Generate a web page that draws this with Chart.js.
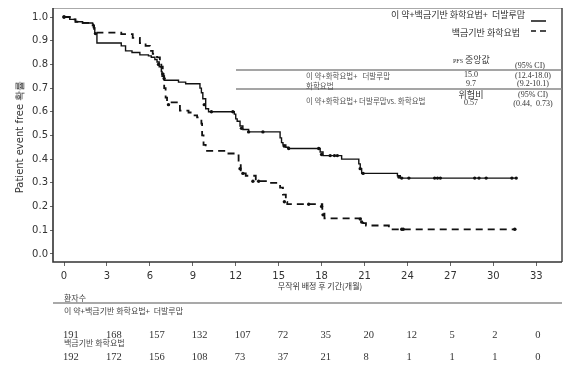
<!DOCTYPE html>
<html><head><meta charset="utf-8">
<script src="https://cdn.jsdelivr.net/npm/chart.js@4/dist/chart.umd.min.js"></script>
<style>html,body{margin:0;padding:0;background:#fff;}canvas{display:block;}</style>
</head><body>
<canvas id="c" width="566" height="366"></canvas>
<script>
// ---- data ----
const xTicks = [0,3,6,9,12,15,18,21,24,27,30,33];
const yTicks = [0,0.1,0.2,0.3,0.4,0.5,0.6,0.7,0.8,0.9,1.0];

const armA_t = [0,0.4,0.8,1.3,2.0,2.05,2.15,2.3,3.8,4.0,4.3,4.75,5.3,5.9,6.1,6.35,6.5,6.65,6.8,6.85,7.0,8.0,8.5,9.5,9.6,9.7,9.9,10.1,11.9,12.0,12.1,12.3,12.5,12.9,15.1,15.2,15.3,15.5,15.7,17.9,18.1,19.4,20.6,20.7,20.8,23.3,23.5,31.6];
const armA_s = [1.0,0.99,0.98,0.975,0.97,0.955,0.93,0.89,0.89,0.878,0.857,0.85,0.84,0.836,0.83,0.82,0.81,0.79,0.77,0.75,0.733,0.725,0.718,0.70,0.68,0.655,0.613,0.60,0.59,0.57,0.56,0.54,0.525,0.515,0.49,0.47,0.46,0.45,0.445,0.43,0.415,0.40,0.38,0.36,0.34,0.33,0.32,0.32];

const armB_t = [0,0.4,0.8,1.3,2.0,2.1,2.2,4.0,4.8,5.3,5.7,6.0,6.2,6.5,6.7,6.8,6.9,6.95,7.0,7.1,7.2,8.1,8.7,9.0,9.3,9.6,9.65,9.75,9.9,11.2,12.1,12.2,12.35,12.7,13.4,14.4,15.1,15.3,15.5,15.6,18.05,18.2,20.9,21.1,22.7,31.6];
const armB_s = [1.0,0.99,0.98,0.975,0.965,0.95,0.934,0.928,0.912,0.89,0.878,0.857,0.844,0.83,0.815,0.79,0.77,0.75,0.70,0.66,0.64,0.605,0.597,0.585,0.576,0.55,0.50,0.46,0.435,0.424,0.416,0.38,0.34,0.33,0.307,0.30,0.28,0.25,0.22,0.21,0.17,0.15,0.13,0.12,0.104,0.104];

const censorA_t = [0,6.6,6.9,9.8,10.3,11.8,12.4,12.9,13.9,15.4,15.7,17.8,18.0,18.6,18.9,19.1,20.7,20.9,23.4,23.6,24.1,25.9,26.1,26.3,28.7,29.0,29.5,31.3,31.6];
const censorA_s = [1.0,0.80,0.76,0.63,0.60,0.60,0.53,0.515,0.515,0.455,0.445,0.445,0.42,0.415,0.415,0.415,0.36,0.34,0.325,0.32,0.32,0.32,0.32,0.32,0.32,0.32,0.32,0.32,0.32];
const censorB_t = [0,2.2,7.0,7.3,12.3,12.5,13.2,13.6,15.4,17.1,18.0,18.1,20.7,20.8,23.6,23.7,31.5];
const censorB_s = [1.0,0.93,0.74,0.63,0.36,0.34,0.307,0.307,0.22,0.21,0.20,0.165,0.147,0.135,0.104,0.104,0.104];

const riskA = [191,168,157,132,107,72,35,20,12,5,2,0];
const riskB = [192,172,156,108,73,37,21,8,1,1,1,0];

const legendA = '이 약+백금기반 화학요법+  더발루맙';
const legendB = '백금기반 화학요법';
const yTitle = 'Patient event free 확률';
const xTitle = '무작위 배정 후 기간(개월)';

const pts = (ts, ss) => ts.map((t,i) => ({x:t, y:ss[i]}));
const KR = '"Noto Sans CJK KR", sans-serif';
const SERIF = '"Liberation Serif", serif';

const overlay = {
  id:'overlay',
  afterDraw(chart){
    const ctx = chart.ctx, a = chart.chartArea, xs = chart.scales.x;
    ctx.save();
    // frame
    ctx.lineWidth = 1;
    ctx.strokeStyle = '#aaa';
    ctx.beginPath(); ctx.moveTo(a.left, a.top+0.5); ctx.lineTo(a.right, a.top+0.5); ctx.stroke();
    ctx.strokeStyle = '#444'; ctx.lineWidth = 1.5;
    ctx.beginPath(); ctx.moveTo(a.right, a.top); ctx.lineTo(a.right, a.bottom); ctx.stroke();
    ctx.strokeStyle = '#333'; ctx.lineWidth = 1.6;
    ctx.beginPath(); ctx.moveTo(a.left, a.top); ctx.lineTo(a.left, a.bottom); ctx.lineTo(a.right, a.bottom); ctx.stroke();

    // legend
    ctx.fillStyle = '#333'; ctx.textBaseline = 'middle';
    ctx.font = '9px ' + KR; ctx.textAlign = 'right';
    ctx.fillText(legendA, 525, 15);
    ctx.fillText(legendB, 520, 33);
    ctx.strokeStyle = '#111'; ctx.lineWidth = 1.5;
    ctx.beginPath(); ctx.moveTo(531, 21); ctx.lineTo(546, 21); ctx.stroke();
    ctx.beginPath(); ctx.moveTo(531, 31); ctx.lineTo(536, 31); ctx.moveTo(540, 31); ctx.lineTo(546, 31); ctx.stroke();

    // summary table
    ctx.strokeStyle = '#888'; ctx.lineWidth = 1.3;
    ctx.beginPath(); ctx.moveTo(236, 70); ctx.lineTo(a.right, 70); ctx.moveTo(236, 89); ctx.lineTo(a.right, 89); ctx.stroke();
    ctx.fillStyle = '#333';
    ctx.textAlign = 'left';
    ctx.font = '6px ' + SERIF; ctx.fillText('PFS', 453, 61);
    ctx.font = '9px ' + KR; ctx.fillText('중앙값', 465, 60);
    ctx.textAlign = 'center';
    ctx.font = '8px ' + SERIF;
    ctx.fillText('(95% CI)', 530, 66);
    ctx.fillText('15.0', 471, 75); ctx.fillText('(12.4-18.0)', 533, 76);
    ctx.fillText('9.7', 471, 84); ctx.fillText('(9.2-10.1)', 533, 84);
    ctx.fillText('0.57', 471, 103); ctx.fillText('(95% CI)', 533, 95); ctx.fillText('(0.44,  0.73)', 533, 104);
    ctx.font = '9px ' + KR; ctx.fillText('위험비', 471, 95);
    ctx.textAlign = 'left'; ctx.font = '7.5px ' + KR; ctx.fillStyle = '#555';
    ctx.fillText('이 약+화학요법+   더발루맙', 306, 76);
    ctx.fillText('화학요법', 306, 86);
    ctx.fillText('이 약+화학요법+ 더발루맙vs. 화학요법', 306, 101);

    // axis titles
    ctx.fillStyle = '#333';
    ctx.font = '10px "DejaVu Sans", sans-serif'; ctx.textAlign = 'center';
    ctx.save(); ctx.translate(20, 137); ctx.rotate(-Math.PI/2); ctx.fillText(yTitle, 0, 0); ctx.restore();
    ctx.font = '8px ' + KR; ctx.fillText(xTitle, 320, 286);

    // risk table
    ctx.textAlign = 'left'; ctx.font = '8px ' + KR; ctx.fillStyle = '#444';
    ctx.fillText('환자수', 64, 298);
    ctx.strokeStyle = '#555'; ctx.lineWidth = 1.2;
    ctx.beginPath(); ctx.moveTo(a.left, 303); ctx.lineTo(a.right, 303); ctx.stroke();
    ctx.fillText(legendA, 64, 311);
    ctx.fillText(legendB, 64, 343);
    ctx.font = '10.5px ' + SERIF; ctx.fillStyle = '#333';
    xTicks.forEach((t,i) => {
      const px = xs.getPixelForValue(t) - 1;
      ctx.fillText(String(riskA[i]), px, 335);
      ctx.fillText(String(riskB[i]), px, 357);
    });
    ctx.restore();
  }
};

new Chart(document.getElementById('c'), {
  type: 'line',
  data: {
    datasets: [
      {data: pts(armA_t, armA_s), stepped: true, borderColor:'#111', borderWidth:1.4, pointRadius:0, fill:false},
      {data: pts(armB_t, armB_s), stepped: true, borderColor:'#111', borderWidth:1.8, borderDash:[7,5], pointRadius:0, fill:false},
      {data: pts(censorA_t, censorA_s), showLine:false, pointRadius:1.7, pointBackgroundColor:'#111', pointBorderColor:'#111', pointBorderWidth:0},
      {data: pts(censorB_t, censorB_s), showLine:false, pointRadius:1.7, pointBackgroundColor:'#111', pointBorderColor:'#111', pointBorderWidth:0}
    ]
  },
  options: {
    responsive:false, animation:false, devicePixelRatio:1,
    layout:{padding:{top:7, right:4, left:0, bottom:0}},
    plugins:{legend:{display:false}, tooltip:{enabled:false}},
    scales:{
      x:{type:'linear', min:-0.77, max:34.8,
        afterBuildTicks: s => { s.ticks = xTicks.map(v => ({value:v})); },
        afterFit: s => { s.height = 104; },
        border:{display:false},
        grid:{drawOnChartArea:false, drawTicks:true, tickLength:4, color:'#666'},
        ticks:{color:'#333', font:{family:'"DejaVu Sans", sans-serif', size:10}, padding:4, maxRotation:0, autoSkip:false, callback: v => String(v)}
      },
      y:{type:'linear', min:-0.034, max:1.038,
        afterBuildTicks: s => { s.ticks = yTicks.map(v => ({value:v})); },
        afterFit: s => { s.width = 53; },
        border:{display:false},
        grid:{drawOnChartArea:false, drawTicks:true, tickLength:3, color:'#666'},
        ticks:{color:'#333', font:{family:'"DejaVu Sans", sans-serif', size:10}, padding:2, autoSkip:false, callback: v => v.toFixed(1)}
      }
    }
  },
  plugins:[overlay]
});
</script>
</body></html>
